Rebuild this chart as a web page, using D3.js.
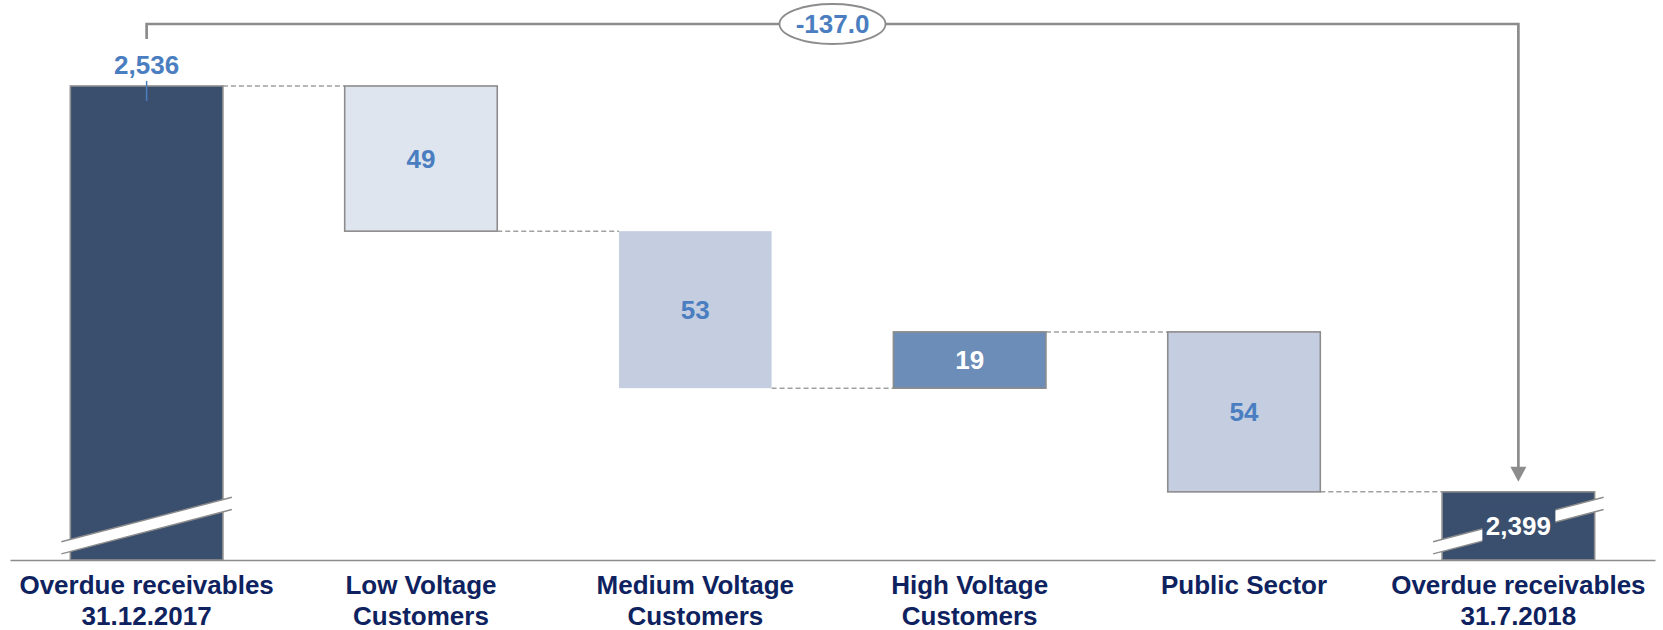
<!DOCTYPE html>
<html>
<head>
<meta charset="utf-8">
<script src="https://cdn.jsdelivr.net/npm/d3@7"></script>
<style>
  html, body { margin: 0; padding: 0; background: #fff; }
  svg { display: block; }
  text { font-family: Arial, "Liberation Sans", Helvetica, sans-serif; font-weight: bold; }
</style>
</head>
<body>
<svg id="chart" width="1663" height="630"></svg>
<script>
// Overdue receivables bridge, 31.12.2017 -> 31.7.2018
const categories = [
  "Overdue receivables\n31.12.2017",
  "Low Voltage\nCustomers",
  "Medium Voltage\nCustomers",
  "High Voltage\nCustomers",
  "Public Sector",
  "Overdue receivables\n31.7.2018"
];
const startValue = 2536;
const changes = [-49, -53, 19, -54];
const endValue = 2399;
const totalChange = -137.0;
const changeLabels = ["49", "53", "19", "54"];
const totalLabels = ["2,536", "2,399"];

// broken value axis: bars start from this floor instead of zero
const axisFloor = 2376;

const baseY = 560;

const colors = {
  total: "#3A4F6E",
  steps: ["#DFE5EF", "#C4CEE0", "#6D8DB9", "#C4CEE0"],
  stroke: "#8C8C8C",
  value: "#4A7EC0",
  category: "#0E2260"
};
const stepStroke = [true, false, true, true];
const stepLabelColor = ["#4A7EC0", "#4A7EC0", "#ffffff", "#4A7EC0"];

// plain hyphen-minus for negative numbers
const fmt = d3.formatLocale({ decimal: ".", thousands: ",", grouping: [3], currency: ["", ""], minus: "-" }).format(".1f");

const svg = d3.select("#chart");

const x = d3.scaleBand()
  .domain(categories)
  .range([10, 1655])
  .paddingInner(0.444)
  .paddingOuter(0.22);

const y = d3.scaleLinear()
  .domain([axisFloor, startValue])
  .range([baseY, 86]);

// build waterfall segments
const segs = [];
segs.push({ cat: categories[0], lo: axisFloor, hi: startValue, level: startValue, kind: "total", idx: 0 });
let running = startValue;
changes.forEach((c, i) => {
  const before = running;
  running += c;
  segs.push({ cat: categories[i + 1], lo: Math.min(before, running), hi: Math.max(before, running),
              level: running, kind: "step", idx: i });
});
segs.push({ cat: categories[5], lo: axisFloor, hi: endValue, level: endValue, kind: "total", idx: 1 });

// dashed connectors between consecutive bars
const conn = svg.append("g");
for (let i = 0; i < segs.length - 1; i++) {
  conn.append("line")
    .attr("x1", x(segs[i].cat) + x.bandwidth())
    .attr("x2", x(segs[i + 1].cat))
    .attr("y1", y(segs[i].level))
    .attr("y2", y(segs[i].level))
    .attr("stroke", "#A0A0A0")
    .attr("stroke-width", 1.5)
    .attr("stroke-dasharray", "5,3");
}

// bars
svg.append("g").selectAll("rect")
  .data(segs)
  .join("rect")
  .attr("x", d => x(d.cat))
  .attr("width", x.bandwidth())
  .attr("y", d => y(d.hi))
  .attr("height", d => y(d.lo) - y(d.hi))
  .attr("fill", d => d.kind === "total" ? colors.total : colors.steps[d.idx])
  .attr("stroke", d => (d.kind === "total" || stepStroke[d.idx]) ? colors.stroke : "none")
  .attr("stroke-width", 1.6);

// axis line with two-line category labels
const axis = svg.append("g")
  .attr("transform", `translate(0,${baseY})`)
  .call(d3.axisBottom(x).tickSize(0).tickFormat(""));
axis.select(".domain").attr("stroke", colors.stroke).attr("stroke-width", 1.5);
axis.selectAll(".tick text").remove();
axis.selectAll(".tick").each(function(d) {
  const t = d3.select(this).append("text")
    .attr("text-anchor", "middle")
    .attr("fill", colors.category)
    .attr("font-size", 26);
  d.split("\n").forEach((line, k) => {
    t.append("tspan").attr("x", 0).attr("y", 34 + k * 31).text(line);
  });
});

// axis-break marks on the two total bars
const breakCenterOffset = 34.4;
const halfRise = 22.2, halfGap = 6.1, overhang = 9;
segs.filter(d => d.kind === "total").forEach(d => {
  const xl = x(d.cat) - overhang, xr = x(d.cat) + x.bandwidth() + overhang;
  const yc = baseY - breakCenterOffset;
  const g = svg.append("g");
  g.append("polygon")
    .attr("points", [
      [xl, yc + halfRise - halfGap], [xr, yc - halfRise - halfGap],
      [xr, yc - halfRise + halfGap], [xl, yc + halfRise + halfGap]
    ].map(p => p.join(",")).join(" "))
    .attr("fill", "#fff");
  [-halfGap, halfGap].forEach(off => {
    g.append("line")
      .attr("x1", xl).attr("y1", yc + halfRise + off)
      .attr("x2", xr).attr("y2", yc - halfRise + off)
      .attr("stroke", colors.stroke).attr("stroke-width", 1.4);
  });
});

// step value labels
segs.filter(d => d.kind === "step").forEach(d => {
  svg.append("text")
    .attr("x", x(d.cat) + x.bandwidth() / 2)
    .attr("y", (y(d.hi) + y(d.lo)) / 2)
    .attr("dy", "0.35em")
    .attr("text-anchor", "middle")
    .attr("font-size", 26)
    .attr("fill", stepLabelColor[d.idx])
    .text(changeLabels[d.idx]);
});

// opening total label above its bar
const x0c = x(categories[0]) + x.bandwidth() / 2;
svg.append("text")
  .attr("x", x0c).attr("y", y(startValue) - 12)
  .attr("text-anchor", "middle")
  .attr("font-size", 26)
  .attr("fill", colors.value)
  .text(totalLabels[0]);
svg.append("line")
  .attr("x1", x0c).attr("x2", x0c)
  .attr("y1", y(startValue) - 5).attr("y2", y(startValue) + 15)
  .attr("stroke", colors.value).attr("stroke-width", 1.5);

// closing total label sits on the break, on a bar-coloured patch
const x5c = x(categories[5]) + x.bandwidth() / 2;
const endLabelY = baseY - breakCenterOffset;
svg.append("rect")
  .attr("x", x5c - 36).attr("width", 73)
  .attr("y", endLabelY - 18).attr("height", 36)
  .attr("fill", colors.total);
svg.append("text")
  .attr("x", x5c).attr("y", endLabelY)
  .attr("dy", "0.35em")
  .attr("text-anchor", "middle")
  .attr("font-size", 26)
  .attr("fill", "#fff")
  .text(totalLabels[1]);

// total-change bracket from opening to closing bar
const bracketY = 24;
const arrowTip = y(endValue) - 10;
svg.append("path")
  .attr("d", `M${x0c},${y(startValue) - 47} V${bracketY} H${x5c} V${arrowTip - 14}`)
  .attr("fill", "none")
  .attr("stroke", colors.stroke)
  .attr("stroke-width", 2.7);
svg.append("path")
  .attr("d", `M${x5c - 8},${arrowTip - 15} L${x5c + 8},${arrowTip - 15} L${x5c},${arrowTip} Z`)
  .attr("fill", colors.stroke);
const midX = (x0c + x5c) / 2;
svg.append("ellipse")
  .attr("cx", midX).attr("cy", bracketY)
  .attr("rx", 53).attr("ry", 20)
  .attr("fill", "#fff")
  .attr("stroke", colors.stroke)
  .attr("stroke-width", 1.8);
svg.append("text")
  .attr("x", midX).attr("y", bracketY)
  .attr("dy", "0.35em")
  .attr("text-anchor", "middle")
  .attr("font-size", 26)
  .attr("fill", colors.value)
  .text(fmt(totalChange));
</script>
</body>
</html>
